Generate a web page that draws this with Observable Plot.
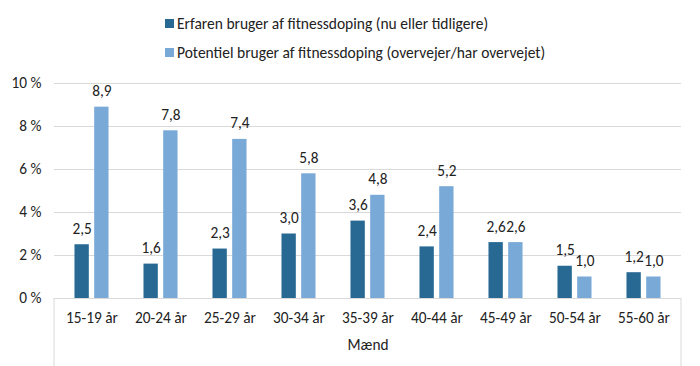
<!DOCTYPE html>
<html>
<head>
<meta charset="utf-8">
<script src="https://cdn.jsdelivr.net/npm/d3@7"></script>
<script src="https://cdn.jsdelivr.net/npm/@observablehq/plot@0.6"></script>
<style>
  body { margin: 0; background: #fff; font-family: Carlito, "Liberation Sans Narrow", "Liberation Sans", sans-serif; }
  #legend { position: relative; width: 700px; height: 70px; font-size: 15.5px; color: #222; }
  .item { position: absolute; left: 165px; display: flex; align-items: center; white-space: nowrap; }
  .sw { width: 9px; height: 9px; margin-right: 3px; }
</style>
</head>
<body>
<div id="legend"></div>
<div id="chart"></div>
<script>
const ages = ["15-19 år", "20-24 år", "25-29 år", "30-34 år", "35-39 år", "40-44 år", "45-49 år", "50-54 år", "55-60 år"];
const experienced = [2.5, 1.6, 2.3, 3.0, 3.6, 2.4, 2.6, 1.5, 1.2];
const potential = [8.9, 7.8, 7.4, 5.8, 4.8, 5.2, 2.6, 1.0, 1.0];
const seriesNames = ["Erfaren bruger af fitnessdoping (nu eller tidligere)", "Potentiel bruger af fitnessdoping (overvejer/har overvejet)"];
const colors = ["#286993", "#79a9d7"];
const yTicks = [0, 2, 4, 6, 8, 10];
const groupLabel = "Mænd";

const legend = document.getElementById("legend");
seriesNames.forEach((name, i) => {
  const it = document.createElement("div");
  it.className = "item";
  it.style.top = (i === 0 ? 14 : 43) + "px";
  it.innerHTML = `<span class="sw" style="background:${colors[i]}"></span><span>${name}</span>`;
  legend.appendChild(it);
});

const expData = ages.map((a, i) => ({age: a, value: experienced[i]}));
const potData = ages.map((a, i) => ({age: a, value: potential[i]}));
const fmt = v => v.toFixed(1).replace(".", ",");

const W = 700, H = 296;
const mL = 54, mR = 19, mT = 13, mB = 68;
const band = (W - mL - mR) / ages.length;
const barW = 15, gap = 4.7;
const outer = (band - 2 * barW - gap) / 2;
const off = (barW + gap) / 2;
const FS = 15.3;

const boxLines = (index, scales, values, dim) => {
  const g = d3.create("svg:g");
  const y0 = scales.y(0);
  [dim.marginLeft, dim.width - dim.marginRight].forEach(x => {
    g.append("line").attr("x1", x).attr("x2", x).attr("y1", y0).attr("y2", dim.height)
      .attr("stroke", "#d9d9d9").attr("stroke-width", 1);
  });
  return g.node();
};

const chart = Plot.plot({
  width: W, height: H,
  marginLeft: mL, marginRight: mR, marginTop: mT, marginBottom: mB,
  style: {fontFamily: 'Carlito, "Liberation Sans Narrow", "Liberation Sans", sans-serif', fontSize: FS + "px", color: "#222", background: "#fff"},
  x: {domain: ages, padding: 0, label: null},
  y: {domain: [0, 10], label: null},
  marks: [
    Plot.ruleY(yTicks, {stroke: "#d9d9d9", strokeWidth: 1}),
    Plot.barY(expData, {x: "age", y: "value", fill: colors[0], insetLeft: outer, insetRight: outer + barW + gap}),
    Plot.barY(potData, {x: "age", y: "value", fill: colors[1], insetLeft: outer + barW + gap, insetRight: outer}),
    Plot.text(expData, {x: "age", y: "value", text: d => fmt(d.value), dx: -off, dy: -16, fontSize: FS, fill: "#222"}),
    Plot.text(potData, {x: "age", y: "value", text: d => fmt(d.value), dx: off, dy: -16, fontSize: FS, fill: "#222"}),
    Plot.axisY({ticks: yTicks, tickSize: 0, tickPadding: 13, tickFormat: d => d + " %", fontSize: FS}),
    Plot.axisX({tickSize: 0, tickPadding: 14, fontSize: FS}),
    Plot.text([groupLabel], {frameAnchor: "bottom", dy: 51, fontSize: FS, fill: "#222"}),
    boxLines
  ]
});
document.getElementById("chart").appendChild(chart);
</script>
</body>
</html>
